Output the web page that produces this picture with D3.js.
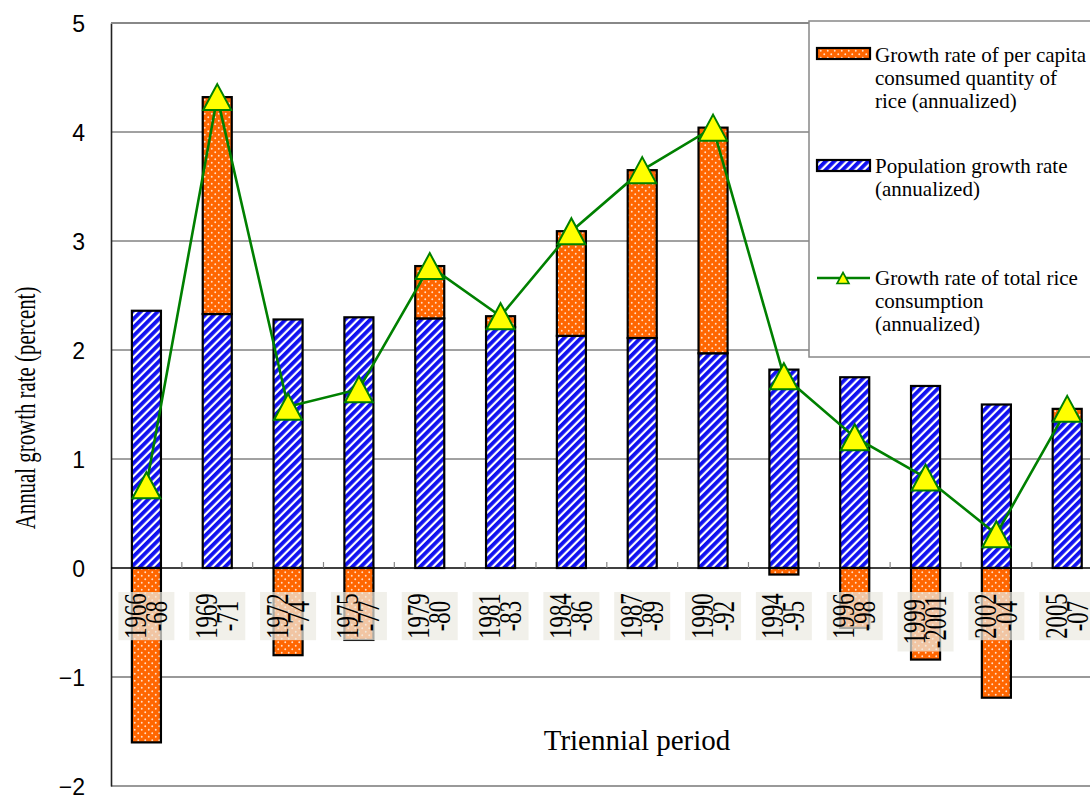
<!DOCTYPE html>
<html>
<head>
<meta charset="utf-8">
<script src="https://cdn.jsdelivr.net/npm/d3@7"></script>
<style>
  html, body { margin: 0; padding: 0; background: #fff; }
  svg { display: block; }
</style>
</head>
<body>
<svg id="chart" width="1090" height="796"></svg>
<script>
// Triennial periods
const categories = ["1966-68", "1969-71", "1972-74", "1975-77", "1979-80", "1981-83", "1984-86",
  "1987-89", "1990-92", "1994-95", "1996-98", "1999-2001", "2002-04", "2005-07"];
// Population growth rate (annualized, %)
const population = [2.36, 2.33, 2.28, 2.30, 2.29, 2.21, 2.13, 2.11, 1.97, 1.82, 1.75, 1.67, 1.50, 1.35];
// Growth rate of per capita consumed quantity of rice (annualized, %)
const perCapita = [-1.60, 1.99, -0.80, -0.66, 0.48, 0.10, 0.96, 1.54, 2.07, -0.06, -0.55, -0.84, -1.19, 0.11];
// Growth rate of total rice consumption (annualized, %)
const total = [0.76, 4.32, 1.48, 1.64, 2.77, 2.31, 3.09, 3.65, 4.04, 1.76, 1.20, 0.83, 0.31, 1.46];
const yTicks = [-2, -1, 0, 1, 2, 3, 4, 5];
const legendLabels = [
  ["Growth rate of per capita", "consumed quantity of", "rice (annualized)"],
  ["Population growth rate", "(annualized)"],
  ["Growth rate of total rice", "consumption", "(annualized)"]
];

const serif = "'Liberation Serif', 'Times New Roman', serif";
const sans = "'Liberation Sans', Arial, sans-serif";

const svg = d3.select("#chart");
const left = 111, step = 70.83;
const x = d3.scaleBand().domain(categories).range([left, left + step * categories.length]).paddingInner(0.59).paddingOuter(0.295);
const y = d3.scaleLinear().domain([-2, 5]).range([786, 23]);

// fill patterns
const defs = svg.append("defs");
const stripes = defs.append("pattern").attr("id", "stripes").attr("patternUnits", "userSpaceOnUse")
  .attr("width", 6).attr("height", 6).attr("patternTransform", "rotate(45)");
stripes.append("rect").attr("width", 6).attr("height", 6).attr("fill", "#ffffff");
stripes.append("rect").attr("width", 3.8).attr("height", 6).attr("fill", "#1010f0");

const dots = defs.append("pattern").attr("id", "dots").attr("patternUnits", "userSpaceOnUse")
  .attr("width", 7).attr("height", 7);
dots.append("rect").attr("width", 7).attr("height", 7).attr("fill", "#ff6600");
dots.append("circle").attr("cx", 1.75).attr("cy", 1.75).attr("r", 0.95).attr("fill", "#ffe0c8");
dots.append("circle").attr("cx", 5.25).attr("cy", 5.25).attr("r", 0.95).attr("fill", "#ffe0c8");

const plotRight = 1090;

// grid lines
svg.append("g").selectAll("line").data(yTicks.filter(t => t !== 0)).join("line")
  .attr("x1", left).attr("x2", plotRight)
  .attr("y1", d => y(d)).attr("y2", d => y(d))
  .attr("stroke", d => d > 0 && d < 5 ? "#444" : "#999")
  .attr("stroke-width", d => d > 0 && d < 5 ? 1 : 2);

// y axis
const yAxis = svg.append("g").attr("transform", `translate(${left},0)`)
  .call(d3.axisLeft(y).tickValues(yTicks).tickSize(0).tickPadding(26)
    .tickFormat(d => d < 0 ? "\u2212" + Math.abs(d) : String(d)));
yAxis.select(".domain").attr("stroke", "#222").attr("stroke-width", 1.6);
yAxis.selectAll("text").attr("font-family", sans).attr("font-size", 23).attr("fill", "#000").attr("dy", "0.36em");

// bars: population from zero, per capita stacked above (positive) or below zero (negative)
const barG = svg.append("g");
categories.forEach((c, i) => {
  const bx = x(c), bw = x.bandwidth();
  barG.append("rect").attr("x", bx).attr("width", bw)
    .attr("y", y(population[i])).attr("height", y(0) - y(population[i]))
    .attr("fill", "url(#stripes)").attr("stroke", "#000").attr("stroke-width", 2.2);
  const p = perCapita[i];
  const y0 = p >= 0 ? population[i] : 0;
  const y1 = y0 + p;
  barG.append("rect").attr("x", bx).attr("width", bw)
    .attr("y", y(Math.max(y0, y1))).attr("height", Math.abs(y(y1) - y(y0)))
    .attr("fill", "url(#dots)").attr("stroke", "#000").attr("stroke-width", 2.2);
});

// zero line and category ticks
svg.append("line").attr("x1", left).attr("x2", plotRight).attr("y1", y(0)).attr("y2", y(0))
  .attr("stroke", "#000").attr("stroke-width", 1.4);
svg.append("g").selectAll("line").data(d3.range(1, categories.length)).join("line")
  .attr("x1", i => left + i * step).attr("x2", i => left + i * step)
  .attr("y1", y(0)).attr("y2", y(0) - 6).attr("stroke", "#888").attr("stroke-width", 1.2);

// plot frame top
svg.append("line").attr("x1", left).attr("x2", plotRight).attr("y1", y(5)).attr("y2", y(5))
  .attr("stroke", "#888").attr("stroke-width", 2);

// category labels (rotated, on a translucent tag)
const labG = svg.append("g");
categories.forEach((c, i) => {
  const k = c.indexOf("-");
  const lines = [c.slice(0, k), c.slice(k)];
  const cx = x(c) + x.bandwidth() / 2;
  const maxLen = d3.max(lines, s => s.length);
  const textLen = maxLen * 11.3;
  const boxH = textLen + 3, boxW = 56, top = 592;
  const cy = top + boxH / 2;
  labG.append("rect").attr("x", cx - boxW / 2).attr("y", top).attr("width", boxW).attr("height", boxH)
    .attr("fill", "rgb(236,234,226)").attr("fill-opacity", 0.72);
  const t = labG.append("g").attr("transform", `translate(${cx},${cy}) rotate(-90) scale(0.73,1)`);
  lines.forEach((s, j) => {
    t.append("text").attr("x", 0).attr("y", (j - 0.5) * 21 + 10)
      .attr("text-anchor", "middle").attr("font-family", serif).attr("font-size", 31)
      .attr("fill", "#000").text(s);
  });
});

// total consumption line with triangle markers
const cx = c => x(c) + x.bandwidth() / 2;
svg.append("path").datum(total)
  .attr("d", d3.line().x((d, i) => cx(categories[i])).y(d => y(d)))
  .attr("fill", "none").attr("stroke", "#008000").attr("stroke-width", 2.6);
const tri = (w, h) => `M0,${-h / 2}L${w / 2},${h / 2}L${-w / 2},${h / 2}Z`;
svg.append("g").selectAll("path").data(total).join("path")
  .attr("transform", (d, i) => `translate(${cx(categories[i])},${y(d)})`)
  .attr("d", tri(28, 26)).attr("fill", "#ffff00").attr("stroke", "#008000").attr("stroke-width", 2);

// axis titles
svg.append("text").attr("transform", "translate(35,408) rotate(-90) scale(0.72,1)")
  .attr("text-anchor", "middle").attr("font-family", serif).attr("font-size", 29).attr("fill", "#000")
  .text("Annual growth rate (percent)");
svg.append("text").attr("x", 637).attr("y", 750).attr("text-anchor", "middle")
  .attr("font-family", serif).attr("font-size", 29).attr("fill", "#000").text("Triennial period");

// legend
const lg = svg.append("g");
lg.append("rect").attr("x", 809).attr("y", 21).attr("width", 300).attr("height", 336)
  .attr("fill", "#fff").attr("stroke", "#888").attr("stroke-width", 1.5);
const legendBase = [62, 173, 285];
lg.append("rect").attr("x", 817).attr("y", 48).attr("width", 53).attr("height", 11)
  .attr("fill", "url(#dots)").attr("stroke", "#000").attr("stroke-width", 2.2);
lg.append("rect").attr("x", 817).attr("y", 160).attr("width", 53).attr("height", 11)
  .attr("fill", "url(#stripes)").attr("stroke", "#000").attr("stroke-width", 2.2);
lg.append("line").attr("x1", 817).attr("x2", 870).attr("y1", 278).attr("y2", 278)
  .attr("stroke", "#008000").attr("stroke-width", 2.4);
lg.append("path").attr("transform", "translate(843,278)").attr("d", tri(12, 11))
  .attr("fill", "#ffff00").attr("stroke", "#008000").attr("stroke-width", 1.6);
legendLabels.forEach((ls, i) => {
  ls.forEach((s, j) => {
    lg.append("text").attr("x", 875).attr("y", legendBase[i] + j * 23)
      .attr("font-family", serif).attr("font-size", 21).attr("fill", "#000").text(s);
  });
});
</script>
</body>
</html>
